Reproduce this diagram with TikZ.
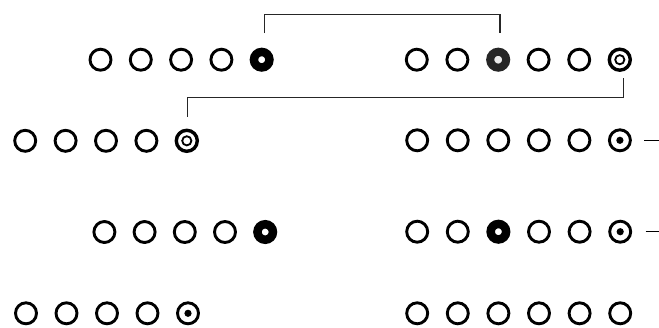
\documentclass[tikz,border=0pt]{standalone}
\tikzset{
  ring/.style={circle,draw=black,fill=white,line width=2.9pt,minimum size=21pt,inner sep=0pt,outer sep=0pt},
  solidring/.style={circle,draw=black,fill=white,line width=8.5pt,minimum size=15.5pt,inner sep=0pt,outer sep=0pt},
  greyring/.style={circle,draw=black!85,fill=black!8,line width=8pt,minimum size=16pt,inner sep=0pt,outer sep=0pt},
  dblring/.style={ring,line width=3.4pt,path picture={\draw[black,line width=1.8pt] (path picture bounding box.center) circle (4.6pt);}},
  dotring/.style={ring,path picture={\fill[black] (path picture bounding box.center) circle (3.6pt);}},
  bracket/.style={draw=black!85,line width=1.2pt},
  tick/.style={draw=black,line width=1.5pt}
}
\begin{document}
\begin{tikzpicture}[x=1pt,y=-1pt]
\useasboundingbox[fill=white] (0,0) rectangle (659,327);
% row 1 left
\foreach \i in {1,...,4} \node[ring] (a\i) at ({100.5+40.3*(\i-1)},59.7) {};
\node[solidring] (a5) at (261.7,59.7) {};
% row 1 right
\foreach \i in {1,2,4,5} \node[ring] (b\i) at ({416.8+40.6*(\i-1)},59.7) {};
\node[greyring] (b3) at (498.2,59.7) {};
\node[dblring] (b6) at (619.8,59.7) {};
% row 2 left
\foreach \i in {1,...,4} \node[ring] (c\i) at ({25.2+40.4*(\i-1)},140.8) {};
\node[dblring] (c5) at (186.8,140.8) {};
% row 2 right
\foreach \i in {1,...,5} \node[ring] (d\i) at ({417.2+40.55*(\i-1)},140.3) {};
\node[dotring] (d6) at (619.9,140.3) {};
% row 3 left
\foreach \i in {1,...,4} \node[ring] (e\i) at ({104.4+40.2*(\i-1)},232) {};
\node[solidring] (e5) at (265.2,232) {};
% row 3 right
\foreach \i in {1,2,4,5} \node[ring] (f\i) at ({417.2+40.6*(\i-1)},231.7) {};
\node[solidring] (f3) at (498.4,231.7) {};
\node[dotring] (f6) at (620.2,231.7) {};
% row 4 left
\foreach \i in {1,...,4} \node[ring] (g\i) at ({26+40.5*(\i-1)},313.3) {};
\node[dotring] (g5) at (188,313.3) {};
% row 4 right
\foreach \i in {1,...,6} \node[ring] (h\i) at ({417.2+40.6*(\i-1)},313.3) {};
% brackets
\draw[bracket] ([shift={(2.5,-26.5)}]a5.center) -- ++(0,-18.5) -| ([shift={(1.8,-26.5)}]b3.center);
\draw[bracket] ([shift={(3.5,18.5)}]b6.center) -- ++(0,19.5) -| ([shift={(0.5,-24)}]c5.center);
% ticks
\coordinate (dEnd) at (659,140.3);
\coordinate (fEnd) at (659,231.7);
\draw[tick] ([xshift=14pt]d6.east) -- (dEnd);
\draw[tick] ([xshift=15pt]f6.east) -- (fEnd);
\end{tikzpicture}
\end{document}
